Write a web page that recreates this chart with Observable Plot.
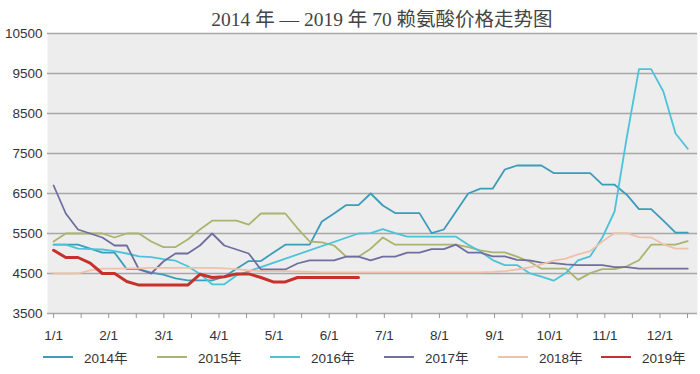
<!DOCTYPE html>
<html><head><meta charset="utf-8">
<script src="https://cdn.jsdelivr.net/npm/d3@7"></script>
<script src="https://cdn.jsdelivr.net/npm/@observablehq/plot@0.6"></script>
<style>
body{margin:0;background:#fff;width:700px;height:374px;overflow:hidden;position:relative;font-family:"Liberation Sans",Arial,"Noto Sans CJK SC",sans-serif;}
#title{position:absolute;left:57px;width:650px;top:3px;text-align:center;font-family:"Liberation Serif","Noto Sans CJK SC",serif;font-size:19.5px;color:#444;white-space:nowrap;}
#chart{position:absolute;left:0;top:24px;}
#legend{position:absolute;left:0;top:347px;width:700px;height:20px;font-size:13.5px;color:#333;white-space:nowrap;}
.item{position:absolute;top:0;display:flex;align-items:center;gap:11px;}
.sw{width:30px;height:2px;}
</style></head><body>
<div id="title">2014 年 — 2019 年 70 赖氨酸价格走势图</div>
<div id="chart"></div>
<div id="legend"></div>
<script>
// ---- data (weekly observations, index 0 = first week of January) ----
const years = ["2014年", "2015年", "2016年", "2017年", "2018年", "2019年"];
const colors = ["#3b9cbc", "#aab46c", "#4cc3d9", "#6e6fa0", "#efc1aa", "#c9302c"];
const s2014 = [5220,5220,5220,5120,5020,5020,4610,4610,4520,4470,4380,4330,4330,4330,4420,4620,4810,4810,5020,5220,5220,5220,5800,6000,6210,6210,6500,6200,6010,6010,6010,5510,5600,6050,6500,6620,6620,7100,7200,7200,7200,7010,7010,7010,7010,6720,6720,6470,6110,6110,5820,5520,5520];
const s2015 = [5300,5500,5500,5500,5500,5400,5500,5500,5300,5160,5160,5350,5600,5820,5820,5820,5720,6000,6000,6000,5630,5300,5280,5200,4920,4920,5120,5400,5220,5220,5220,5220,5220,5220,5160,5080,5030,5030,4920,4800,4620,4620,4620,4340,4510,4610,4610,4680,4830,5220,5220,5220,5310];
const s2016 = [5220,5220,5120,5110,5100,5060,5000,4930,4910,4860,4820,4680,4490,4230,4230,4450,null,null,null,null,null,null,null,null,null,5500,5510,5610,5510,5420,5420,5420,5420,5420,5220,5050,4835,4710,4710,4510,4420,4320,4510,4830,4930,5400,6050,7900,9610,9610,9050,8000,7620];
const s2017 = [6700,6000,5600,5500,5400,5200,5200,4600,4500,4800,5000,5000,5200,5500,5200,5100,5000,4600,4600,4600,4750,4830,4830,4830,4920,4920,4830,4920,4920,5020,5020,5110,5110,5220,5020,5020,4930,4930,4840,4830,4770,4760,4730,4710,4710,4710,4660,4660,4620,4620,4620,4620,4620];
const s2018 = [4500,4500,4500,4580,4620,4620,4630,4630,4640,4640,4640,4640,4640,4640,4630,4610,4580,4560,4560,4560,4550,4540,4530,4530,4530,4530,4530,4530,4530,4530,4530,4530,4530,4530,4530,4530,4540,4560,4600,4650,4730,4820,4870,4980,5060,5300,5510,5510,5410,5400,5230,5120,5120];
const s2019 = [5080,4900,4900,4760,4500,4500,4300,4210,4210,4210,4210,4210,4480,4400,4420,4490,4490,4400,4290,4290,4400,4400,4400,4400,4400,4400];
const yTicks = [3500,4500,5500,6500,7500,8500,9500,10500];
const monthLabels = ["1/1","2/1","3/1","4/1","5/1","6/1","7/1","8/1","9/1","10/1","11/1","12/1"];
const WEEKS_PER_MONTH = 4.52; // spacing of month labels on the category axis

const series = [s2014, s2015, s2016, s2017, s2018, s2019];
const rows = [];
series.forEach((vals, k) => vals.forEach((v, i) => { if (v != null) rows.push({year: years[k], i, v}); }));

const monthTicks = monthLabels.map((_, m) => m * WEEKS_PER_MONTH);
const halfTicks = d3.range(24).map(k => k * WEEKS_PER_MONTH / 2);

const lineMarks = years.map((y, k) => Plot.line(rows.filter(r => r.year === y), {
  x: "i", y: "v", stroke: colors[k], strokeWidth: y === "2019年" ? 3 : 1.8, strokeLinejoin: "round"
}));

const chart = Plot.plot({
  width: 700, height: 320,
  marginLeft: 47, marginRight: 3, marginTop: 9, marginBottom: 31,
  x: {domain: [-0.5, 52.8], axis: null, label: null},
  y: {domain: [3500, 10500], axis: null, label: null},
  style: {fontFamily: '"Liberation Sans", Arial, sans-serif', fontSize: "13.5px", color: "#333", background: "transparent"},
  marks: [
    Plot.frame({fill: "#ededed", stroke: null}),
    Plot.ruleY(yTicks, {stroke: "#a8a8a8", strokeWidth: 1.6}),
    Plot.axisY({ticks: yTicks, tickSize: 0, tickPadding: 5, label: null, tickFormat: d => String(d)}),
    Plot.axisX({ticks: halfTicks, tickSize: 5, label: null, tickFormat: () => "", stroke: "#999"}),
    Plot.axisX({ticks: monthTicks, tickSize: 0, tickPadding: 17, label: null, tickFormat: d => monthLabels[Math.round(d / WEEKS_PER_MONTH)]}),
    ...lineMarks
  ]
});
document.getElementById("chart").appendChild(chart);

const legendLeft = [43, 157, 270, 384, 498, 601];
const lg = document.getElementById("legend");
years.forEach((y, k) => {
  const it = document.createElement("div"); it.className = "item"; it.style.left = legendLeft[k] + "px";
  const sw = document.createElement("div"); sw.className = "sw"; sw.style.background = colors[k];
  const t = document.createElement("span"); t.textContent = y;
  it.appendChild(sw); it.appendChild(t); lg.appendChild(it);
});
</script>
</body></html>
